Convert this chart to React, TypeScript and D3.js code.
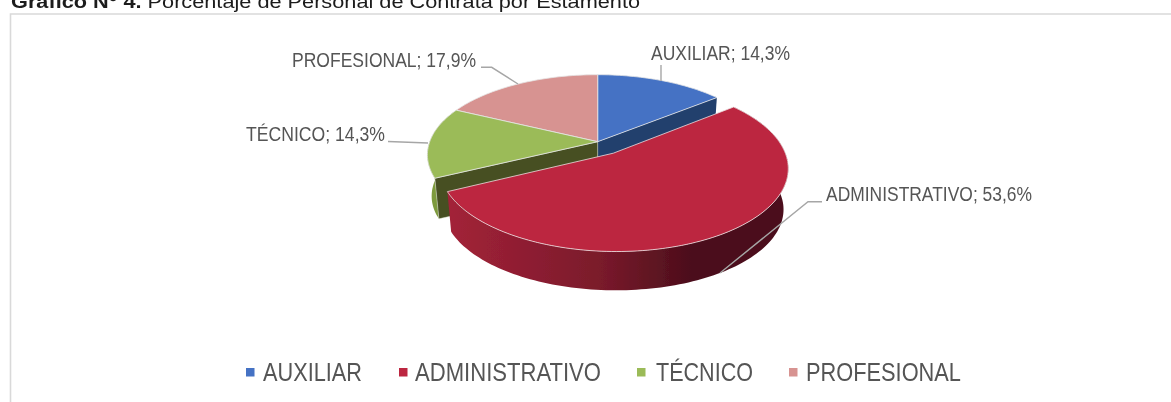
import React from "react";
import * as d3 from "d3";

const categories = ["AUXILIAR", "ADMINISTRATIVO", "TÉCNICO", "PROFESIONAL"];
const percentages = [14.3, 53.6, 14.3, 17.9];
const topColors = ["#4472c4", "#bc2640", "#9bbb59", "#d79391"];
const innerWallColors = ["#223f6d", "#6b1524", "#465022", "#8a5a58"];
const outerWallColors = ["#2a4d85", "url(#redWall)", "#7d9a3c", "#a56e6c"];
const explode = [0, 0.17, 0, 0];

const W = 1171, H = 402;
const cx = 597.7, cy = 141.7, sx = 168, sy = 78, persp = 0.164, depth = 41.5, shrink = 0.025;
const FONT = "'Liberation Sans', Arial, sans-serif";
const TXT = "#555555";

const labelLayout = [
  { x: 651, w: 139, y: 59.5, leader: [[661, 65], [661, 81]] },
  { x: 826, w: 206, y: 200.5, leader: [[822, 201.7], [808, 201.7], [720, 273]] },
  { x: 246, w: 139, y: 140.5, leader: [[388, 141.5], [428, 143]] },
  { x: 292, w: 184, y: 66.5, leader: [[481, 67.3], [491.7, 67.3], [518, 84]] },
];
const legendLayout = [
  { m: 246, x: 263, w: 99 },
  { m: 399, x: 415, w: 186 },
  { m: 637, x: 656, w: 97 },
  { m: 789, x: 806, w: 155 },
];

const pieGen = d3.pie<number>().sort(null).value((d) => d);
const slices = pieGen(percentages);
const line = d3.line<[number, number]>();

function project(u: number, v: number, z: number): [number, number] {
  const f = 1 + persp * v;
  const s = 1 - shrink * z;
  return [cx + (sx * u * s) / f, cy - (sy * v * s) / f + depth * z];
}
function offsetOf(i: number): [number, number] {
  const s = slices[i];
  const mid = (s.startAngle + s.endAngle) / 2;
  return [Math.sin(mid) * explode[i], Math.cos(mid) * explode[i]];
}
function rim(i: number, a0: number, a1: number, z: number): [number, number][] {
  const [ou, ov] = offsetOf(i);
  const n = Math.max(2, Math.ceil((a1 - a0) * 40));
  return d3.range(n + 1).map((k) => {
    const a = a0 + ((a1 - a0) * k) / n;
    return project(ou + Math.sin(a), ov + Math.cos(a), z);
  });
}
function apex(i: number, z: number): [number, number] {
  const [ou, ov] = offsetOf(i);
  return project(ou, ov, z);
}
const topPath = (i: number) => {
  const s = slices[i];
  return line([apex(i, 0), ...rim(i, s.startAngle, s.endAngle, 0)])! + "Z";
};
const outerWall = (i: number, a0: number, a1: number) =>
  line([...rim(i, a0, a1, 0), ...rim(i, a0, a1, 1).reverse()])! + "Z";
const radialWall = (i: number, a: number) => {
  const p0 = rim(i, a, a + 0.01, 0)[0];
  const p1 = rim(i, a, a + 0.01, 1)[0];
  return line([apex(i, 0), p0, p1, apex(i, 1)])! + "Z";
};

export default function App() {
  const [blue, red, green, pink] = [0, 1, 2, 3];
  return (
    <svg width={W} height={H} viewBox={`0 0 ${W} ${H}`} style={{ position: "absolute", left: 0, top: 0 }} fontFamily={FONT}>
      <defs>
        <linearGradient id="redWall" x1="0" x2="1" y1="0" y2="0">
          <stop offset="0" stopColor="#a32238" />
          <stop offset="0.45" stopColor="#7a1a2b" />
          <stop offset="0.72" stopColor="#4b0e1b" />
          <stop offset="1" stopColor="#4b0e1b" />
        </linearGradient>
        <filter id="soft" x="0" y="0" width="100%" height="100%" filterUnits="objectBoundingBox">
          <feGaussianBlur stdDeviation="0.35" />
        </filter>
      </defs>
      <rect width={W} height={H} fill="#fff" />
      <g filter="url(#soft)">
        <rect width={W} height={H} fill="#fff" />
        <path d={`M10.5 ${H}V14H${W}`} fill="none" stroke="#d9d9d9" strokeWidth={1.6} />
        <text x={11} y={7.5} fontSize={18} fill="#1a1a1a" textLength={629} lengthAdjust="spacingAndGlyphs">
          <tspan fontWeight="bold">Gráfico N° 4.</tspan> Porcentaje de Personal de Contrata por Estamento
        </text>

        {/* back walls */}
        <path d={radialWall(blue, slices[blue].endAngle)} fill={innerWallColors[blue]} />
        <path d={outerWall(green, slices[green].startAngle, slices[green].endAngle)} fill={outerWallColors[green]} />
        <path d={radialWall(green, slices[green].startAngle)} fill={innerWallColors[green]} stroke="#dfe3d0" strokeWidth={0.5} />
        {[blue, pink, green].map((i) => (
          <path key={i} d={topPath(i)} fill={topColors[i]} stroke="#e6e6e6" strokeWidth={0.8} strokeLinejoin="round" />
        ))}

        {/* exploded slice */}
        <path d={outerWall(red, slices[red].startAngle, slices[red].endAngle)} fill={outerWallColors[red]} />
        <path d={topPath(red)} fill={topColors[red]} stroke="#ecdfe1" strokeWidth={0.8} strokeLinejoin="round" />

        {/* leaders and labels */}
        {labelLayout.map((l, i) => (
          <g key={categories[i]}>
            <path d={line(l.leader as [number, number][])!} fill="none" stroke="#a6a6a6" strokeWidth={1.4} />
            <text x={l.x} y={l.y} fontSize={20} fill={TXT} textLength={l.w} lengthAdjust="spacingAndGlyphs">
              {`${categories[i]}; ${percentages[i].toFixed(1).replace(".", ",")}%`}
            </text>
          </g>
        ))}

        {/* legend */}
        {legendLayout.map((l, i) => (
          <g key={categories[i]}>
            <rect x={l.m} y={368} width={8.5} height={8.5} fill={topColors[i]} />
            <text x={l.x} y={381} fontSize={26.5} fill={TXT} textLength={l.w} lengthAdjust="spacingAndGlyphs">
              {categories[i]}
            </text>
          </g>
        ))}
      </g>
    </svg>
  );
}
